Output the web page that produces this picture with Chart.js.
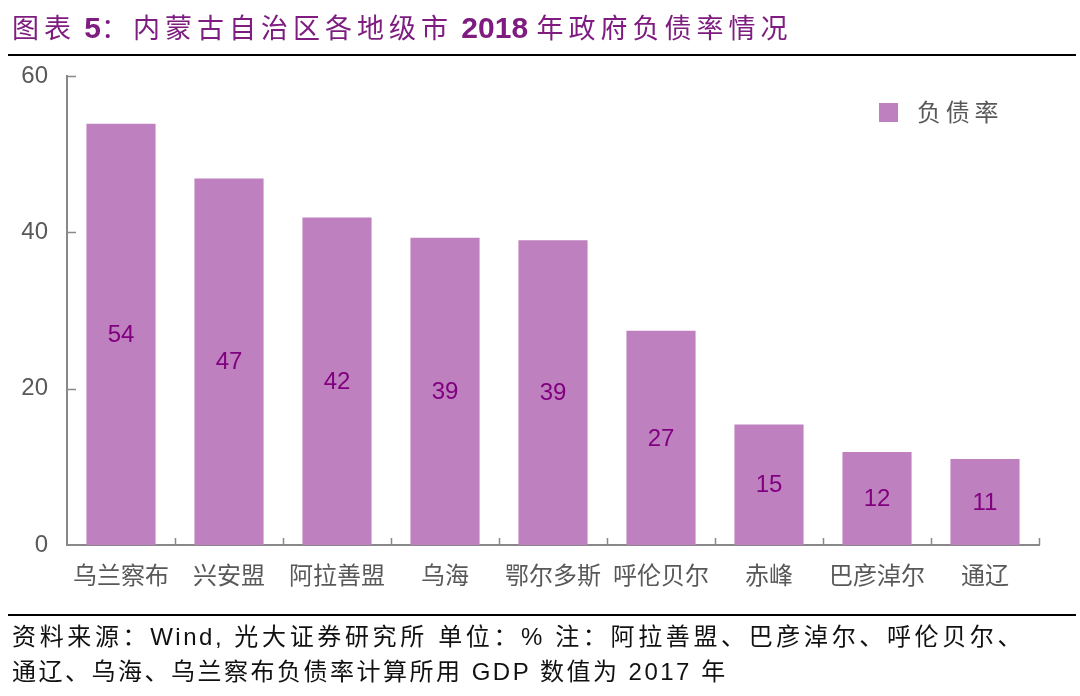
<!DOCTYPE html>
<html>
<head>
<meta charset="utf-8">
<script src="https://cdn.jsdelivr.net/npm/chart.js@4"></script>
<style>
  html, body { margin: 0; padding: 0; background: #fff; }
  body { width: 1080px; height: 696px; position: relative; overflow: hidden;
         font-family: "Liberation Sans", "Noto Sans CJK SC", sans-serif; }
  #chartBox { position: absolute; left: 0; top: 0; width: 1080px; height: 696px; }
  .title { position: absolute; left: 12px; top: 10px; font-size: 27px; line-height: 36px;
           color: #7e1c80; letter-spacing: 5px; white-space: nowrap; }
  .title b { font-family: "Liberation Sans", sans-serif; font-size: 30px; letter-spacing: 0; }
  .rule { position: absolute; left: 8px; width: 1068px; height: 2px; background: #000; }
  .note { position: absolute; left: 12px; font-size: 24px; line-height: 30px; color: #111;
          white-space: nowrap; letter-spacing: 2.5px; }
  .note.first { width: 1012px; text-align: justify; text-align-last: justify; white-space: normal; }
</style>
</head>
<body>
<div id="chartBox"><canvas id="chartDebt"></canvas></div>
<div class="title">图表<b> 5</b>：内蒙古自治区各地级市<b> 2018 </b>年政府负债率情况</div>
<div class="rule" style="top:54px"></div>
<div class="rule" style="top:614px"></div>
<div class="note first" style="top:622px">资料来源：Wind, 光大证券研究所 单位：% 注：阿拉善盟、巴彦淖尔、呼伦贝尔、</div>
<div class="note" style="top:657px">通辽、乌海、乌兰察布负债率计算所用 GDP 数值为 2017 年</div>
<script>
"use strict";

// Cities (x categories)
const cities = ["乌兰察布", "兴安盟", "阿拉善盟", "乌海", "鄂尔多斯", "呼伦贝尔", "赤峰", "巴彦淖尔", "通辽"];

// Government debt ratio, %
const debtRatio = [53.9, 46.9, 41.9, 39.3, 39.0, 27.4, 15.4, 11.9, 11.0];

// Y axis ticks
const yTicks = [0, 20, 40, 60];

const seriesName = "负债率";
const barColor = "#bf80bf";
const axisColor = "#898989";

// Small inward tick marks, like the original Excel axes
const innerTicks = {
  id: "innerTicks",
  afterDraw(chart) {
    const { ctx, chartArea, scales } = chart;
    ctx.save();
    ctx.strokeStyle = axisColor;
    ctx.lineWidth = 1.5;
    ctx.beginPath();
    yTicks.forEach((v) => {
      if (v === 0) return;
      const y = Math.round(scales.y.getPixelForValue(v)) + 0.5;
      ctx.moveTo(chartArea.left, y);
      ctx.lineTo(chartArea.left + 9, y);
    });
    const n = cities.length;
    const step = (chartArea.right - chartArea.left) / n;
    for (let i = 1; i <= n; i++) {
      const x = Math.round(chartArea.left + i * step) + 0.5;
      ctx.moveTo(x, chartArea.bottom);
      ctx.lineTo(x, chartArea.bottom - 7);
    }
    ctx.stroke();
    ctx.restore();
  },
};

// Value in the middle of each bar
const barValues = {
  id: "barValues",
  afterDatasetsDraw(chart) {
    const { ctx } = chart;
    const meta = chart.getDatasetMeta(0);
    ctx.save();
    ctx.fillStyle = "#800080";
    ctx.font = '24px "Liberation Sans", Arial, sans-serif';
    ctx.textAlign = "center";
    ctx.textBaseline = "middle";
    meta.data.forEach((bar, i) => {
      const v = chart.data.datasets[0].data[i];
      ctx.fillText(String(Math.round(v)), bar.x, (bar.y + bar.base) / 2 + 1);
    });
    ctx.restore();
  },
};

// Legend box at the top right of the plot
const cornerLegend = {
  id: "cornerLegend",
  afterDraw(chart) {
    const { ctx, chartArea } = chart;
    const ds = chart.data.datasets[0];
    const x = chartArea.right - 160;
    const y = chartArea.top + 27;
    ctx.save();
    ctx.fillStyle = ds.backgroundColor;
    ctx.fillRect(x, y, 19, 19);
    ctx.fillStyle = "#595959";
    ctx.font = '24px "Noto Sans CJK SC", sans-serif';
    ctx.textAlign = "left";
    ctx.textBaseline = "middle";
    ctx.fillText(ds.label.split("").join("\u2009"), x + 38, y + 9);
    ctx.restore();
  },
};

new Chart(document.getElementById("chartDebt").getContext("2d"), {
  type: "bar",
  data: {
    labels: cities,
    datasets: [
      {
        label: seriesName,
        data: debtRatio,
        backgroundColor: barColor,
        borderWidth: 0,
        barPercentage: 0.64,
        categoryPercentage: 1,
      },
    ],
  },
  options: {
    responsive: true,
    maintainAspectRatio: false,
    animation: false,
    devicePixelRatio: 1,
    layout: { padding: { left: 0, top: 76, right: 41, bottom: 101 } },
    plugins: {
      legend: { display: false },
      tooltip: { enabled: false },
    },
    scales: {
      x: {
        grid: { display: false, drawTicks: false },
        border: { display: true, color: axisColor, width: 2 },
        ticks: {
          color: "#595959",
          padding: 15,
          font: { family: '"Noto Sans CJK SC", sans-serif', size: 24 },
        },
        afterFit(scale) {
          scale.height = 50;
        },
      },
      y: {
        min: 0,
        max: 60,
        afterBuildTicks(scale) {
          scale.ticks = yTicks.map((v) => ({ value: v }));
        },
        grid: { display: false, drawTicks: false },
        border: { display: true, color: axisColor, width: 2 },
        ticks: {
          color: "#595959",
          padding: 19,
          font: { family: '"Liberation Sans", Arial, sans-serif', size: 24 },
        },
        afterFit(scale) {
          scale.width = 67;
        },
      },
    },
  },
  plugins: [innerTicks, barValues, cornerLegend],
});
</script>
</body>
</html>
